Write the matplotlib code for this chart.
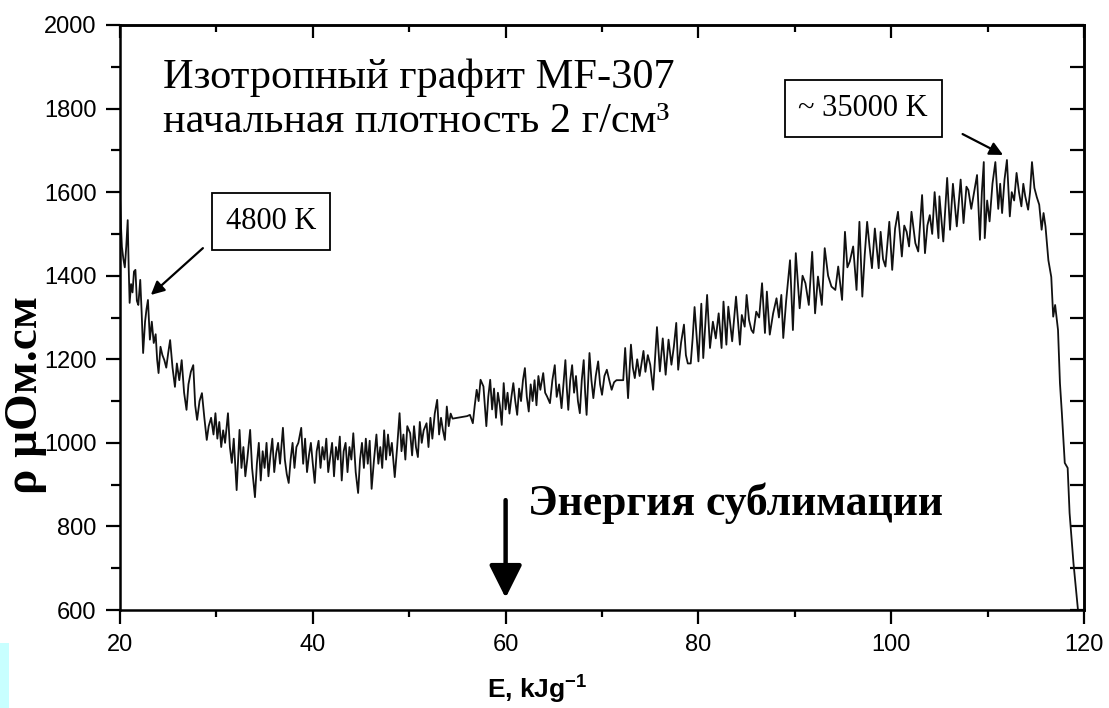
import numpy as np
import matplotlib.pyplot as plt
from matplotlib.ticker import MultipleLocator, NullFormatter
from matplotlib.patches import Rectangle

# Energy deposited (kJ/g) and resistivity (uOhm*cm)
energy = [
    # 20 - 30
    20.0, 20.1, 20.2, 20.35, 20.5, 20.65, 20.8, 20.9, 21.0, 21.15,
    21.3, 21.45, 21.6, 21.75, 21.9, 22.1, 22.25, 22.4, 22.6, 22.75,
    22.9, 23.1, 23.3, 23.5, 23.7, 23.85, 24.0, 24.2, 24.4, 24.6,
    24.8, 25.0, 25.2, 25.45, 25.7, 25.9, 26.15, 26.4, 26.65, 26.9,
    27.1, 27.35, 27.6, 27.8, 28.0, 28.25, 28.5, 28.75, 29.0, 29.2,
    29.45, 29.7, 29.9,
    # 30 - 45
    30.1, 30.3, 30.5, 30.7, 30.9, 31.2, 31.4, 31.6, 31.8, 32.1,
    32.25, 32.4, 32.6, 32.8, 33.0, 33.2, 33.5, 33.7, 34.0, 34.2,
    34.4, 34.6, 34.8, 35.0, 35.2, 35.4, 35.6, 35.8, 36.0, 36.2,
    36.4, 36.6, 36.9, 37.1, 37.3, 37.5, 37.7, 37.9, 38.1, 38.3,
    38.5, 38.8, 39.0, 39.2, 39.4, 39.6, 39.8, 40.0, 40.2, 40.4,
    40.6, 40.8, 41.0, 41.2, 41.4, 41.6, 41.8, 42.0, 42.2, 42.4,
    42.6, 42.8, 43.0, 43.2, 43.4, 43.6, 43.8, 44.0, 44.2, 44.45,
    44.7, 44.9,
    # 45 - 57
    45.1, 45.3, 45.5, 45.7, 45.9, 46.1, 46.35, 46.6, 46.8, 47.0,
    47.2, 47.4, 47.6, 47.8, 48.0, 48.2, 48.5, 48.75, 49.0, 49.2,
    49.4, 49.6, 49.8, 50.1, 50.3, 50.5, 50.7, 50.9, 51.1, 51.3,
    51.5, 51.8, 52.0, 52.2, 52.4, 52.65, 52.9, 53.1, 53.3, 53.5,
    53.7, 53.9, 54.1, 54.3, 54.5, 55.0, 55.5, 56.0, 56.3, 56.6,
    56.8, 57.0,
    # 57 - 72
    57.2, 57.4, 57.7, 58.0, 58.2, 58.4, 58.6, 58.8, 59.0, 59.2,
    59.4, 59.6, 59.8, 60.0, 60.2, 60.4, 60.6, 60.8, 61.0, 61.2,
    61.4, 61.6, 61.8, 62.0, 62.2, 62.4, 62.6, 62.8, 63.0, 63.2,
    63.4, 63.6, 63.9, 64.1, 64.3, 64.6, 64.85, 65.1, 65.3, 65.55,
    65.8, 66.0, 66.2, 66.35, 66.5, 66.7, 66.9, 67.1, 67.3, 67.5,
    67.7, 67.9, 68.1, 68.25, 68.4, 68.7, 68.9, 69.1, 69.35, 69.6,
    69.8, 70.0, 70.25, 70.5, 70.75, 71.0, 71.25, 71.5, 72.2,
    # 72 - 86
    72.4, 72.7, 73.0, 73.2, 73.4, 73.65, 73.9, 74.1, 74.3, 74.5,
    74.75, 75.0, 75.3, 75.5, 75.7, 76.0, 76.3, 76.6, 76.9, 77.2,
    77.45, 77.7, 77.9, 78.2, 78.5, 78.7, 78.9, 79.2, 79.4, 79.6,
    80.0, 80.3, 80.5, 80.7, 80.9, 81.2, 81.5, 81.8, 82.1, 82.4,
    82.6, 82.9, 83.1, 83.5, 83.9, 84.3, 84.5, 84.8, 85.0, 85.25,
    85.5, 85.7, 86.0,
    # 86 - 108
    86.3, 86.6, 86.9, 87.1, 87.4, 87.75, 88.1, 88.35, 88.6, 88.8,
    89.1, 89.5, 89.8, 90.1, 90.5, 90.8, 91.1, 91.45, 91.8, 92.1,
    92.4, 92.8, 93.1, 93.45, 93.8, 94.2, 94.5, 94.9, 95.2, 95.45,
    95.7, 96.05, 96.4, 96.7, 97.0, 97.25, 97.5, 97.75, 98.0, 98.3,
    98.7, 98.9, 99.15, 99.4, 99.8, 100.1, 100.4, 100.7, 101.1, 101.35,
    101.6, 101.85, 102.1, 102.5, 102.8, 103.2, 103.5, 103.75, 104.0, 104.25,
    104.5, 104.9, 105.0, 105.4, 105.8, 106.1, 106.4, 106.8, 107.2, 107.5,
    107.8, 108.0,
    # 108 - 120
    108.3, 108.6, 108.9, 109.2, 109.4, 109.6, 109.7, 109.95, 110.2, 110.5,
    110.8, 111.1, 111.3, 111.5, 111.75, 112.0, 112.3, 112.5, 112.75, 113.0,
    113.25, 113.5, 113.7, 113.9, 114.2, 114.4, 114.6, 114.85, 115.1, 115.35,
    115.6, 115.8, 116.0, 116.3, 116.6, 116.8, 117.0, 117.3, 117.5, 117.7,
    118.0, 118.3, 118.5, 118.9, 119.4,
]

rho = [
    # 20 - 30
    1590, 1520, 1469, 1440, 1420, 1470, 1533, 1421, 1335, 1380,
    1360, 1410, 1414, 1340, 1330, 1390, 1310, 1215, 1290, 1320,
    1342, 1247, 1290, 1239, 1260, 1200, 1167, 1230, 1210, 1198,
    1180, 1215, 1246, 1180, 1134, 1190, 1150, 1198, 1120, 1079,
    1140, 1170, 1186, 1090, 1055, 1100, 1119, 1060, 1007, 1040,
    1060, 1020, 1071,
    # 30 - 45
    1010, 1050, 990, 1030, 1000, 1071, 990, 952, 1010, 887,
    960, 1031, 940, 990, 920, 960, 1031, 940, 870, 950,
    1000, 910, 980, 940, 1000, 920, 970, 1010, 930, 975,
    1000, 950, 1036, 960, 925, 904, 960, 1000, 940, 990,
    1000, 1036, 950, 1010, 930, 970, 1000, 950, 904, 980,
    1005, 940, 990, 960, 1010, 930, 966, 1000, 920, 990,
    960, 1015, 910, 980, 1000, 930, 990, 960, 1023, 930,
    880, 960,
    # 45 - 57
    1000, 940, 1010, 950, 1005, 890, 960, 1020, 950, 990,
    940, 1030, 960, 1020, 970, 1000, 918, 990, 1071, 980,
    1020, 960, 1040, 1023, 970, 1040, 990, 966, 1050, 1000,
    1030, 1047, 990, 1060, 1010, 1070, 1103, 1020, 1060, 1030,
    1007, 1087, 1040, 1070, 1058, 1060, 1062, 1064, 1067, 1047,
    1090, 1127,
    # 57 - 72
    1100, 1151, 1135, 1040, 1110, 1151, 1080, 1130, 1060, 1120,
    1090, 1043, 1143, 1080, 1120, 1070, 1110, 1143, 1100, 1067,
    1130, 1100, 1150, 1179, 1110, 1075, 1140, 1100, 1150, 1090,
    1160, 1127, 1167, 1120, 1111, 1095, 1150, 1186, 1110, 1140,
    1083, 1140, 1198, 1130, 1079, 1150, 1186, 1120, 1160, 1100,
    1071, 1150, 1198, 1120, 1067, 1215, 1150, 1107, 1160, 1195,
    1140, 1115, 1160, 1175, 1150, 1127, 1145, 1150, 1150,
    # 72 - 86
    1227, 1107, 1235, 1180, 1155, 1200, 1160, 1190, 1220, 1170,
    1210, 1187, 1127, 1200, 1277, 1171, 1250, 1163, 1247, 1187,
    1230, 1287, 1175, 1240, 1283, 1210, 1190, 1190, 1250, 1325,
    1195, 1333, 1203, 1280, 1354, 1227, 1290, 1250, 1310, 1227,
    1338, 1235, 1326, 1243, 1350, 1235, 1306, 1278, 1354, 1294,
    1270, 1263, 1314,
    # 86 - 108
    1300, 1382, 1263, 1362, 1259, 1310, 1346, 1300, 1354, 1251,
    1340, 1437, 1270, 1454, 1322, 1400, 1382, 1330, 1457, 1310,
    1398, 1330, 1466, 1400, 1374, 1366, 1422, 1342, 1505, 1420,
    1434, 1470, 1366, 1529, 1350, 1450, 1529, 1470, 1418, 1513,
    1418, 1505, 1440, 1422, 1529, 1414, 1513, 1553, 1446, 1520,
    1505, 1470, 1553, 1478, 1458, 1593, 1454, 1520, 1545, 1500,
    1600, 1490, 1590, 1482, 1634, 1510, 1620, 1518, 1630, 1526,
    1613, 1605,
    # 108 - 120
    1560, 1600, 1641, 1486, 1600, 1672, 1490, 1580, 1530, 1620,
    1672, 1560, 1620, 1550, 1630, 1677, 1542, 1600, 1580, 1646,
    1600, 1566, 1620, 1590, 1558, 1600, 1672, 1610, 1588, 1570,
    1510, 1550, 1518, 1437, 1397, 1302, 1330, 1270, 1143, 1071,
    952, 940, 832, 713, 593,
]

assert len(energy) == len(rho)

serif = "Liberation Serif"
sans = "Liberation Sans"
plt.rcParams["font.family"] = sans
plt.rcParams["mathtext.fontset"] = "custom"
plt.rcParams["mathtext.rm"] = sans
plt.rcParams["mathtext.bf"] = sans + ":bold"

fig = plt.figure(figsize=(11.09, 7.08), dpi=100)
ax = fig.add_axes([0.1082, 0.1384, 0.8693, 0.8263])

ax.plot(energy, rho, color="#111111", lw=1.3)

ax.set_xlim(20, 120)
ax.set_ylim(600, 2000)
ax.xaxis.set_major_locator(MultipleLocator(20))
ax.xaxis.set_minor_locator(MultipleLocator(10))
ax.yaxis.set_major_locator(MultipleLocator(200))
ax.yaxis.set_minor_locator(MultipleLocator(100))

ax.tick_params(which="both", direction="out", width=1.6, labelsize=17,
               top=False, right=False)
ax.tick_params(axis="y", which="major", length=10, pad=7)
ax.tick_params(axis="y", which="minor", length=6.5)
ax.tick_params(axis="x", which="major", length=10, pad=7)
ax.tick_params(axis="x", which="minor", length=5)
for s in ax.spines.values():
    s.set_linewidth(1.8)

# inward ticks on top and right
top = ax.secondary_xaxis("top")
top.xaxis.set_major_locator(MultipleLocator(20))
top.xaxis.set_minor_locator(MultipleLocator(10))
top.xaxis.set_major_formatter(NullFormatter())
top.tick_params(which="both", direction="in", width=1.6)
top.tick_params(which="major", length=9)
top.tick_params(which="minor", length=5)
right = ax.secondary_yaxis("right")
right.yaxis.set_major_locator(MultipleLocator(200))
right.yaxis.set_minor_locator(MultipleLocator(100))
right.yaxis.set_major_formatter(NullFormatter())
right.tick_params(which="both", direction="in", width=1.6, length=10)
for sec in (top, right):
    for s in sec.spines.values():
        s.set_linewidth(1.8)

# axis labels
ax.text(0.433, -0.135, r"E, kJg$^{\mathbf{-1}}$", transform=ax.transAxes,
        ha="center", va="center", fontsize=19, fontweight="bold")
ax.text(-0.097, 0.368, "ρ μОм.см", transform=ax.transAxes, rotation=90,
        ha="center", va="center", fontsize=34, fontweight="bold", family=serif)

# header text
ax.text(24.5, 1849, "Изотропный графит MF-307", fontsize=30.5, family=serif,
        ha="left", va="baseline")
ax.text(24.5, 1744, "начальная плотность 2 г/см³", fontsize=30.5, family=serif,
        ha="left", va="baseline")

# temperature labels
box = dict(boxstyle="square,pad=0.45", fc="white", ec="black", lw=1.3)
ax.text(35.7, 1530, "4800 K", fontsize=22, family=serif,
        ha="center", va="center", bbox=box)
ax.text(97.1, 1800, "~ 35000 K", fontsize=22, family=serif,
        ha="center", va="center", bbox=box)
small_arrow = dict(arrowstyle="-|>", color="black", lw=1.6,
                   mutation_scale=20, shrinkA=0, shrinkB=0)
ax.annotate("", xy=(23.2, 1354), xytext=(28.6, 1466), arrowprops=small_arrow)
ax.annotate("", xy=(111.6, 1689), xytext=(107.4, 1739), arrowprops=small_arrow)

# sublimation energy marker
ax.annotate("", xy=(60, 629), xytext=(60, 863),
            arrowprops=dict(arrowstyle="-|>", color="black", lw=3.2,
                            mutation_scale=50, shrinkA=0, shrinkB=0))
ax.text(62.3, 827, "Энергия сублимации", fontsize=31.5, fontweight="bold",
        family=serif, ha="left", va="baseline")

# scan artefact in the corner
fig.patches.append(Rectangle((0, 0), 0.008, 0.092, transform=fig.transFigure,
                             fc="#c8ffff", ec="none"))

fig.savefig("out.png", dpi=100)
